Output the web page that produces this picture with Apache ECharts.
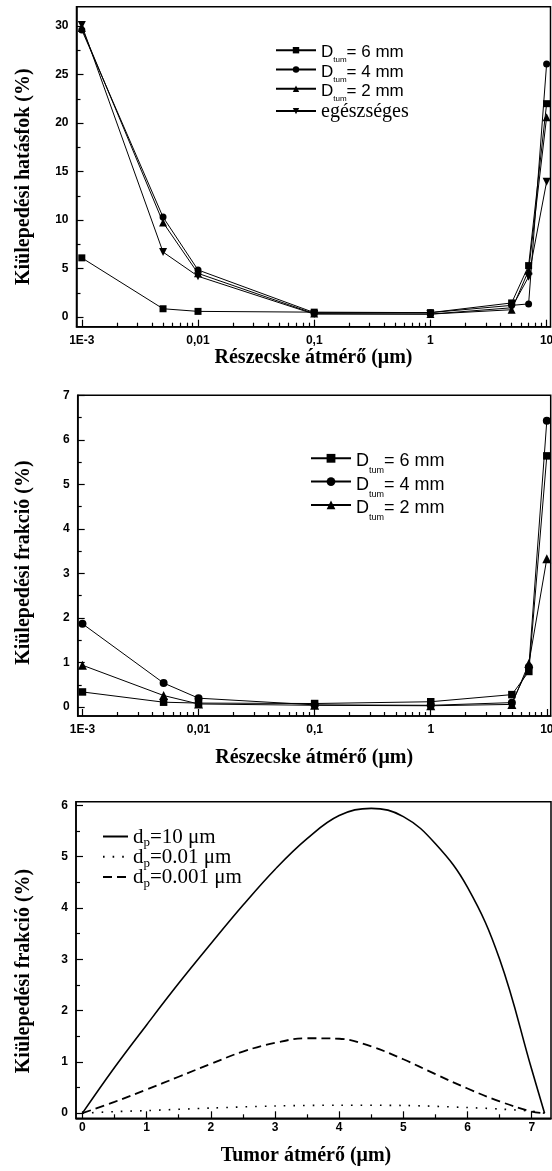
<!DOCTYPE html>
<html><head><meta charset="utf-8">
<script src="https://cdn.jsdelivr.net/npm/echarts@6/dist/echarts.min.js"></script>
<style>html,body{margin:0;padding:0;background:#fff}#c{width:552px;height:1171px}</style>
</head><body><div id="c"></div>
<script>
// ---------- data ----------
const particleD = [0.001, 0.005, 0.01, 0.1, 1, 5, 7, 10];
const effNames = ['D_tum = 6 mm', 'D_tum = 4 mm', 'D_tum = 2 mm', 'egészséges'];
const eff6 = [6.1, 0.85, 0.58, 0.5, 0.45, 1.45, 5.3, 22.0];
const eff4 = [29.6, 10.3, 4.85, 0.45, 0.45, 1.2, 1.35, 26.1];
const eff2 = [29.8, 9.75, 4.5, 0.35, 0.3, 0.75, 4.8, 20.6];
const effH = [30.1, 6.7, 4.2, 0.3, 0.3, 0.95, 4.15, 13.95];

const fracNames = ['F_tum = 6 mm', 'F_tum = 4 mm', 'F_tum = 2 mm'];
const frac6 = [0.34, 0.11, 0.09, 0.08, 0.12, 0.28, 0.8, 5.64];
const frac4 = [1.87, 0.54, 0.2, 0.05, 0.04, 0.1, 0.9, 6.43];
const frac2 = [0.94, 0.26, 0.07, 0.04, 0.03, 0.06, 0.98, 3.33];

const tumNames = ['dp=10', 'dp=0.01', 'dp=0.001'];
const tumX10 = [0, 0.5, 1, 1.5, 2, 2.5, 3, 3.5, 4, 4.5, 5, 5.5, 6, 6.5, 7, 7.2];
const tumY10 = [0, 0.89, 1.72, 2.53, 3.3, 4.05, 4.75, 5.35, 5.8, 5.94, 5.78, 5.25, 4.4, 3.0, 0.85, 0];
const tumX001 = [0, 0.5, 1, 2, 3, 4, 5, 6, 6.5, 7, 7.2];
const tumY001 = [0, 0.03, 0.05, 0.1, 0.14, 0.155, 0.15, 0.11, 0.08, 0.04, 0];
const tumX0001 = [0, 0.5, 1, 1.5, 2, 2.5, 3, 3.5, 4, 4.5, 5, 5.5, 6, 6.5, 7, 7.2];
const tumY0001 = [0, 0.22, 0.46, 0.71, 0.96, 1.2, 1.37, 1.46, 1.45, 1.3, 1.05, 0.76, 0.48, 0.23, 0.03, 0];

const logTickVals = [0.001, 0.01, 0.1, 1, 10];
const logTickLabels = ['1E-3', '0,01', '0,1', '1', '10'];
const effTicks = [0, 5, 10, 15, 20, 25, 30];
const fracTicks = [0, 1, 2, 3, 4, 5, 6, 7];
const tumYTicks = [0, 1, 2, 3, 4, 5, 6];
const tumXTicks = [0, 1, 2, 3, 4, 5, 6, 7];

// minor tick positions
const logMinor = [];
[0.001, 0.01, 0.1, 1].forEach(d => { for (let k = 2; k <= 9; k++) logMinor.push(+(d * k).toPrecision(3)); });
const halfSteps = (a, b) => { const r = []; for (let v = a + 0.5; v < b; v += 1) r.push(v); return r; };

// ---------- styles ----------
const BLK = '#000';
const lblFont = { color: BLK, fontFamily: 'Liberation Sans', fontWeight: 'bold', fontSize: 12 };
const nameFont = { color: BLK, fontFamily: 'Liberation Serif', fontWeight: 'bold', fontSize: 20 };
const axLine = { show: true, onZero: false, lineStyle: { color: BLK, width: 1.5 } };

function mainAxis(opt) {
  return Object.assign({
    axisLine: axLine,
    splitLine: { show: false },
    axisTick: { show: true, inside: true, length: 7, customValues: opt.ticks, lineStyle: { color: BLK, width: 1.2 } },
    axisLabel: Object.assign({ show: true, customValues: opt.ticks, margin: opt.margin || 8, formatter: opt.fmt }, lblFont),
    nameTextStyle: Object.assign({ padding: opt.namePad || 0 }, nameFont),
    nameLocation: 'middle', offset: 0
  }, opt.base);
}
function minorAxis(opt) {
  return Object.assign({
    axisLine: { show: false, onZero: false },
    splitLine: { show: false },
    axisLabel: { show: false },
    offset: 0,
    axisTick: { show: true, inside: true, length: 4, customValues: opt.ticks, lineStyle: { color: BLK, width: 1.2 } }
  }, opt.base);
}
const logFmt = v => { const i = logTickVals.findIndex(t => Math.abs(t - v) / t < 1e-6); return i >= 0 ? logTickLabels[i] : ''; };

const grids = [
  { left: 76.5, top: 6.7, width: 474, height: 320 },
  { left: 77.7, top: 395.3, width: 473, height: 320.7 },
  { left: 76, top: 801.7, width: 475, height: 316.6 }
].map(g => Object.assign(g, { show: true, borderColor: BLK, borderWidth: 1.5, containLabel: false, outerBoundsMode: 'none' }));

const xAxis = [
  mainAxis({ ticks: logTickVals, fmt: logFmt, base: { type: 'log', position: 'bottom', gridIndex: 0, min: 0.0009, max: 10.8, name: 'Részecske átmérő (μm)', nameGap: 21 } }),
  minorAxis({ ticks: logMinor, base: { type: 'log', position: 'bottom', gridIndex: 0, min: 0.0009, max: 10.8 } }),
  mainAxis({ ticks: logTickVals, fmt: logFmt, base: { type: 'log', position: 'bottom', gridIndex: 1, min: 0.00091, max: 10.8, name: 'Részecske átmérő (μm)', nameGap: 32 } }),
  minorAxis({ ticks: logMinor, base: { type: 'log', position: 'bottom', gridIndex: 1, min: 0.00091, max: 10.8 } }),
  mainAxis({ ticks: tumXTicks, margin: 3, namePad: [0, 15, 0, 0], base: { type: 'value', position: 'bottom', gridIndex: 2, min: -0.1, max: 7.3, name: 'Tumor átmérő (μm)', nameGap: 28 } }),
  minorAxis({ ticks: halfSteps(0, 7), base: { type: 'value', position: 'bottom', gridIndex: 2, min: -0.1, max: 7.3 } })
];
const yAxis = [
  mainAxis({ ticks: effTicks, namePad: [0, 20, 0, 0], base: { type: 'value', position: 'left', gridIndex: 0, min: -1, max: 32, name: 'Kiülepedési hatásfok (%)', nameGap: 42.5 } }),
  minorAxis({ ticks: [2.5, 7.5, 12.5, 17.5, 22.5, 27.5], base: { type: 'value', position: 'left', gridIndex: 0, min: -1, max: 32 } }),
  mainAxis({ ticks: fracTicks, namePad: [0, 14, 0, 0], base: { type: 'value', position: 'left', gridIndex: 1, min: -0.2, max: 7, name: 'Kiülepedési frakció (%)', nameGap: 44 } }),
  minorAxis({ ticks: halfSteps(0, 7), base: { type: 'value', position: 'left', gridIndex: 1, min: -0.2, max: 7 } }),
  mainAxis({ ticks: tumYTicks, namePad: [0, 22, 0, 0], base: { type: 'value', position: 'left', gridIndex: 2, min: -0.1, max: 6.07, name: 'Kiülepedési frakció (%)', nameGap: 42 } }),
  minorAxis({ ticks: halfSteps(0, 6), base: { type: 'value', position: 'left', gridIndex: 2, min: -0.1, max: 6.07 } })
];

const pair = (xs, ys) => xs.map((x, i) => [x, ys[i]]);
function markSeries(name, ys, xi, yi, symbol, size, rot) {
  return {
    type: 'line', name, xAxisIndex: xi, yAxisIndex: yi, data: pair(particleD, ys),
    symbol, symbolSize: size, symbolRotate: rot || 0, showSymbol: true,
    lineStyle: { color: BLK, width: 1 }, itemStyle: { color: BLK, borderWidth: 0 },
    emphasis: { disabled: true }, z: 3
  };
}
const series = [
  markSeries(effNames[0], eff6, 0, 0, 'rect', 7),
  markSeries(effNames[1], eff4, 0, 0, 'circle', 7),
  markSeries(effNames[2], eff2, 0, 0, 'triangle', 8),
  markSeries(effNames[3], effH, 0, 0, 'triangle', 8, 180),
  markSeries(fracNames[0], frac6, 2, 2, 'rect', 7.5),
  markSeries(fracNames[1], frac4, 2, 2, 'circle', 8),
  markSeries(fracNames[2], frac2, 2, 2, 'triangle', 9),
  { type: 'line', name: tumNames[0], xAxisIndex: 4, yAxisIndex: 4, data: pair(tumX10, tumY10), smooth: 0.4, symbol: 'none',
    lineStyle: { color: BLK, width: 1.6, type: 'solid' }, itemStyle: { color: BLK }, emphasis: { disabled: true } },
  { type: 'line', name: tumNames[1], xAxisIndex: 4, yAxisIndex: 4, data: pair(tumX001, tumY001), smooth: 0.3, symbol: 'none',
    lineStyle: { color: BLK, width: 1.6, type: [1.6, 8] }, itemStyle: { color: BLK }, emphasis: { disabled: true } },
  { type: 'line', name: tumNames[2], xAxisIndex: 4, yAxisIndex: 4, data: pair(tumX0001, tumY0001), smooth: 0.4, symbol: 'none',
    lineStyle: { color: BLK, width: 1.8, type: [9, 5] }, itemStyle: { color: BLK }, emphasis: { disabled: true } }
];

// legend label pieces
const effLegend = { 'D_tum = 6 mm': '= 6 mm', 'D_tum = 4 mm': '= 4 mm', 'D_tum = 2 mm': '= 2 mm',
                    'F_tum = 6 mm': '= 6 mm', 'F_tum = 4 mm': '= 4 mm', 'F_tum = 2 mm': '= 2 mm' };
const tumLegend = { 'dp=10': '=10 μm', 'dp=0.01': '=0.01 μm', 'dp=0.001': '=0.001 μm' };

const legends = [
  { data: effNames, left: 275, top: 42.2, itemWidth: 40, itemHeight: 8, itemGap: -2.7,
    formatter: n => n === 'egészséges' ? '{e|egészséges}' : '{D|D}{s|tum}{t|' + effLegend[n] + '}',
    textStyle: { rich: {
      D: { fontFamily: 'Liberation Sans', fontSize: 17, color: BLK, lineHeight: 16, padding: [2, 0, 0, 0], verticalAlign: 'top' },
      t: { fontFamily: 'Liberation Sans', fontSize: 17, color: BLK, lineHeight: 16, padding: [2, 0, 0, 0], verticalAlign: 'top' },
      s: { fontFamily: 'Liberation Sans', fontSize: 8, color: BLK, lineHeight: 8, padding: [14, 0, 0, 0], verticalAlign: 'top' },
      e: { fontFamily: 'Liberation Serif', fontSize: 20, color: BLK, lineHeight: 22, padding: [2, 0, 0, 0], verticalAlign: 'top' }
    } } },
  { data: fracNames, left: 310, top: 449.3, itemWidth: 40, itemHeight: 11, itemGap: -2.7,
    formatter: n => '{D|D}{s|tum}{t|' + effLegend[n] + '}',
    textStyle: { rich: {
      D: { fontFamily: 'Liberation Sans', fontSize: 18, color: BLK, lineHeight: 18, padding: [3, 0, 0, 0], verticalAlign: 'top' },
      t: { fontFamily: 'Liberation Sans', fontSize: 18, color: BLK, lineHeight: 18, padding: [3, 0, 0, 0], verticalAlign: 'top' },
      s: { fontFamily: 'Liberation Sans', fontSize: 9, color: BLK, lineHeight: 9, padding: [17, 0, 0, 0], verticalAlign: 'top' }
    } } },
  { data: tumNames, left: 102, top: 826.5, itemWidth: 25, itemHeight: 6, itemGap: -2.7,
    itemStyle: { opacity: 0 },
    formatter: n => '{d|d}{p|p}{t|' + tumLegend[n] + '}',
    textStyle: { rich: {
      d: { fontFamily: 'Liberation Serif', fontSize: 21, color: BLK, lineHeight: 20, verticalAlign: 'top' },
      t: { fontFamily: 'Liberation Serif', fontSize: 21, color: BLK, lineHeight: 20, verticalAlign: 'top' },
      p: { fontFamily: 'Liberation Serif', fontSize: 13, color: BLK, lineHeight: 13, padding: [10, 0, 0, 0], verticalAlign: 'top' }
    } } }
].map(l => Object.assign({ orient: 'vertical', padding: 0, selectedMode: false }, l));

const chart = echarts.init(document.getElementById('c'), null, { renderer: 'canvas' });
chart.setOption({
  animation: false,
  backgroundColor: '#fff',
  grid: grids,
  xAxis, yAxis, series,
  legend: legends
});
</script></body></html>
